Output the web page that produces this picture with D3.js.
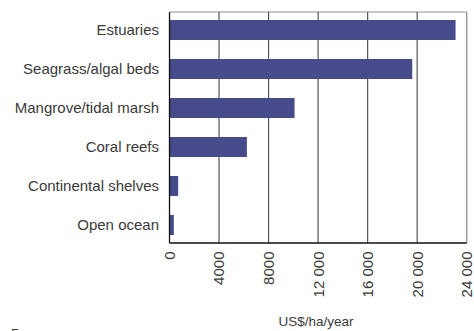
<!DOCTYPE html>
<html>
<head>
<meta charset="utf-8">
<script src="https://cdn.jsdelivr.net/npm/d3@7"></script>
<style>
  html, body { margin: 0; padding: 0; background: #fff; }
  svg { display: block; }
  text { font-family: "Liberation Sans", Arial, Helvetica, sans-serif; fill: #3a3a3a; }
</style>
</head>
<body>
<svg id="chart" width="474" height="331"></svg>
<script>
// Economic value of marine ecosystems, US$ per hectare per year
const categories = ["Estuaries", "Seagrass/algal beds", "Mangrove/tidal marsh",
                    "Coral reefs", "Continental shelves", "Open ocean"];
const values = [23100, 19600, 10100, 6250, 700, 350];
const tickValues = [0, 4000, 8000, 12000, 16000, 20000, 24000];
const tickLabels = ["0", "4000", "8000", "12 000", "16 000", "20 000", "24 000"];
const axisTitle = "US$/ha/year";

const svg = d3.select("#chart");
const margin = { top: 12, right: 7.3, bottom: 88, left: 169.5 };
const W = 474, H = 331;
const plotW = W - margin.left - margin.right;
const plotH = H - margin.top - margin.bottom;

const x = d3.scaleLinear().domain([0, 24000]).range([0, plotW]);
const y = d3.scaleBand().domain(categories).range([0, plotH])
  .paddingInner(0.487).paddingOuter(0.205);

const g = svg.append("g").attr("transform", `translate(${margin.left},${margin.top})`);

// frame: light top and right edges
g.append("line").attr("x1", 0).attr("x2", plotW).attr("y1", 0).attr("y2", 0)
  .attr("stroke", "#b4b4b4").attr("stroke-width", 1.5);
g.append("line").attr("x1", plotW).attr("x2", plotW).attr("y1", 0).attr("y2", plotH)
  .attr("stroke", "#9a9a9a").attr("stroke-width", 1.5);

// vertical gridlines
g.selectAll(".grid").data(tickValues.slice(1, -1)).enter().append("line")
  .attr("class", "grid")
  .attr("x1", d => x(d)).attr("x2", d => x(d))
  .attr("y1", 0).attr("y2", plotH)
  .attr("stroke", "#555").attr("stroke-width", 1.2);

// bars
g.selectAll(".bar").data(categories).enter().append("rect")
  .attr("class", "bar")
  .attr("x", 0)
  .attr("y", d => y(d))
  .attr("width", (d, i) => x(values[i]))
  .attr("height", y.bandwidth())
  .attr("fill", "#464b8b");

// left and bottom axis lines
g.append("line").attr("x1", 0).attr("x2", 0).attr("y1", 0).attr("y2", plotH)
  .attr("stroke", "#111").attr("stroke-width", 1.3);
g.append("line").attr("x1", 0).attr("x2", plotW).attr("y1", plotH).attr("y2", plotH)
  .attr("stroke", "#111").attr("stroke-width", 1.3);

// category labels
g.selectAll(".cat").data(categories).enter().append("text")
  .attr("class", "cat")
  .attr("x", -10.5)
  .attr("y", d => y(d) + y.bandwidth() / 2)
  .attr("dy", "0.36em")
  .attr("text-anchor", "end")
  .style("font-size", "15px")
  .text(d => d);

// rotated tick labels
g.selectAll(".tick-label").data(tickValues).enter().append("text")
  .attr("class", "tick-label")
  .attr("transform", d => `translate(${x(d)},${plotH + 8.5}) rotate(-90)`)
  .attr("dy", "0.36em")
  .attr("text-anchor", "end")
  .style("font-size", "15px")
  .text((d, i) => tickLabels[i]);

// axis title
g.append("text")
  .attr("x", plotW / 2 - 2)
  .attr("y", 326 - margin.top)
  .attr("text-anchor", "middle")
  .style("font-size", "13.5px")
  .text(axisTitle);

// page number fragment at the lower edge
svg.append("text")
  .attr("x", 11)
  .attr("y", 338.5)
  .style("font-size", "15px")
  .text("5");
</script>
</body>
</html>
